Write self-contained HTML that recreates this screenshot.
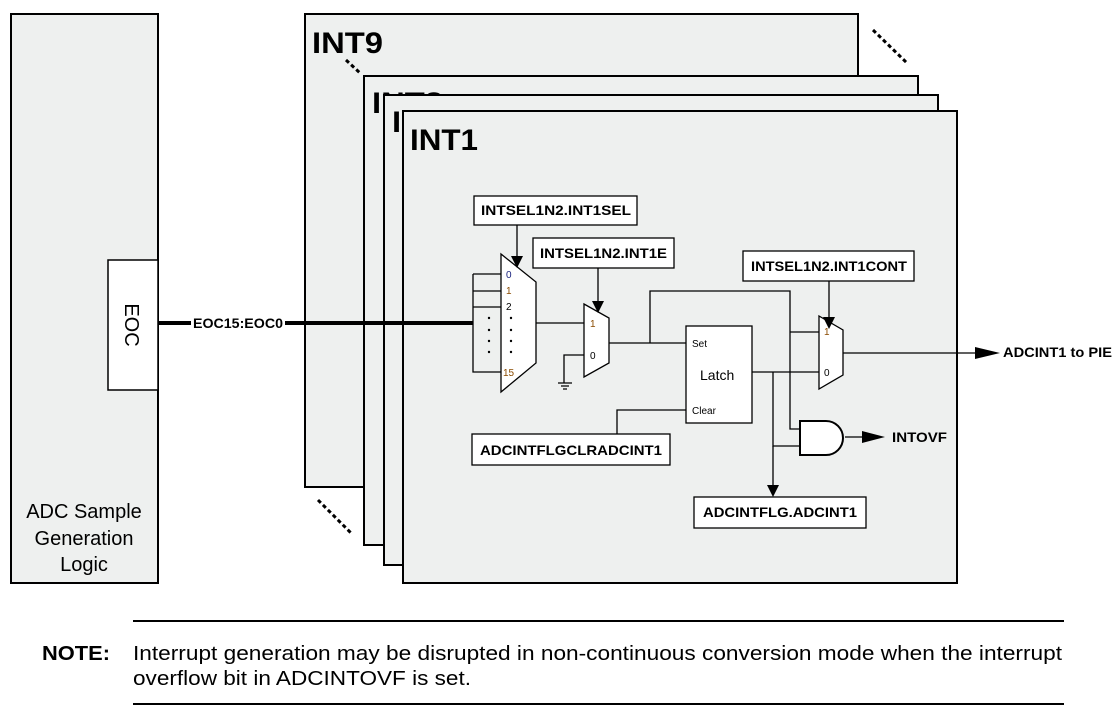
<!DOCTYPE html>
<html><head><style>
html,body{margin:0;padding:0;background:#fff;width:1119px;height:716px;overflow:hidden}
svg text{font-family:"Liberation Sans",sans-serif}
</style></head><body>
<svg width="1119" height="716" viewBox="0 0 1119 716" xmlns="http://www.w3.org/2000/svg">
<g stroke="#000" stroke-width="2" fill="#eef0ef">
<rect x="11" y="14" width="147" height="569"/>
<rect x="305" y="14" width="553" height="473"/>
</g>
<text x="312" y="53" font-size="30" font-weight="bold" textLength="71" lengthAdjust="spacingAndGlyphs">INT9</text>
<rect x="364" y="76" width="554" height="469" fill="#eef0ef" stroke="#000" stroke-width="2"/>
<text x="372" y="113" font-size="30" font-weight="bold" textLength="71" lengthAdjust="spacingAndGlyphs">INT8</text>
<rect x="384" y="95" width="554" height="470" fill="#eef0ef" stroke="#000" stroke-width="2"/>
<text x="392" y="132" font-size="30" font-weight="bold" textLength="71" lengthAdjust="spacingAndGlyphs">INT7</text>
<rect x="403" y="111" width="554" height="472" fill="#eef0ef" stroke="#000" stroke-width="2"/>
<text x="410" y="150" font-size="30" font-weight="bold" textLength="68" lengthAdjust="spacingAndGlyphs">INT1</text>
<rect x="108" y="260" width="50" height="130" fill="#fff" stroke="#000" stroke-width="1.5"/>
<text transform="translate(125,325) rotate(90)" font-size="20" text-anchor="middle">EOC</text>
<text x="84" y="518" font-size="20" text-anchor="middle">ADC Sample</text>
<text x="84" y="545" font-size="20" text-anchor="middle">Generation</text>
<text x="84" y="571" font-size="20" text-anchor="middle">Logic</text>
<g stroke="#000" stroke-width="3" stroke-dasharray="4,3">
<line x1="346" y1="60" x2="360" y2="73"/>
<line x1="873" y1="30" x2="907" y2="63"/>
<line x1="318" y1="500" x2="351" y2="533"/>
</g>
<line x1="158" y1="323" x2="473" y2="323" stroke="#000" stroke-width="4"/>
<rect x="191" y="315" width="94" height="16" fill="#fff"/>
<text x="193" y="328" font-size="14" font-weight="bold" textLength="90" lengthAdjust="spacingAndGlyphs">EOC15:EOC0</text>
<g stroke="#000" stroke-width="1.3" fill="none">
<path d="M473,274 V372 H501 M473,274 H501 M473,291 H501 M473,307 H501"/>
<path d="M536,323 H584 M584,355 H564 V383 M558,383 H572 M561,386 H569 M563,389 H567"/>
<path d="M609,343 H686 M650,343 V291 H790 V429 H800 M790,332 H819 M752,372 H819 M773,372 V446 H800 M843,353 H980"/>
<path d="M617,434 V410 H686 M845,437 H865 M773,446 V485"/>
<path d="M517,225 V256 M598,268 V301 M829,281 V317"/>
</g>
<g stroke="#000" stroke-width="1.3" fill="#fff">
<path d="M501,254 L536,282 L536,363 L501,392 Z"/>
<path d="M584,304 L609,318 L609,363 L584,377 Z"/>
<path d="M819,316 L843,330 L843,375 L819,389 Z"/>
<rect x="686" y="326" width="66" height="97"/>
<path d="M800,421 H826 A17,17 0 0 1 826,455 H800 Z" stroke-width="2"/>
<rect x="474" y="196" width="163" height="29"/>
<rect x="533" y="238" width="141" height="30"/>
<rect x="743" y="251" width="171" height="30"/>
<rect x="472" y="434" width="198" height="31"/>
<rect x="694" y="497" width="172" height="31"/>
</g>
<g fill="#000">
<path d="M511,256 L523,256 L517,268 Z"/><path d="M592,301 L604,301 L598,313 Z"/><path d="M823,317 L835,317 L829,329 Z"/>
<path d="M767,485 L779,485 L773,497 Z"/><path d="M975,347 L1000,353 L975,359 Z"/><path d="M862,431 L885,437 L862,443 Z"/>
<circle cx="489" cy="318" r="1.2"/><circle cx="489" cy="330" r="1.2"/><circle cx="489" cy="341" r="1.2"/><circle cx="489" cy="352" r="1.2"/>
<circle cx="511" cy="318" r="1.2"/><circle cx="511" cy="330" r="1.2"/><circle cx="511" cy="341" r="1.2"/><circle cx="511" cy="352" r="1.2"/>
</g>
<g font-size="10">
<text x="506" y="278" fill="#1a237e">0</text><text x="506" y="294" fill="#8a4b00">1</text><text x="506" y="310">2</text><text x="503" y="376" fill="#8a4b00">15</text>
<text x="590" y="327" fill="#8a4b00">1</text><text x="590" y="359">0</text>
<text x="824" y="335" fill="#8a4b00">1</text><text x="824" y="376">0</text>
<text x="692" y="347">Set</text><text x="692" y="414">Clear</text>
</g>
<text x="700" y="380" font-size="14">Latch</text>
<g font-size="14" font-weight="bold">
<text x="481" y="215" textLength="150" lengthAdjust="spacingAndGlyphs">INTSEL1N2.INT1SEL</text>
<text x="540" y="258" textLength="127" lengthAdjust="spacingAndGlyphs">INTSEL1N2.INT1E</text>
<text x="751" y="271" textLength="156" lengthAdjust="spacingAndGlyphs">INTSEL1N2.INT1CONT</text>
<text x="480" y="455" textLength="182" lengthAdjust="spacingAndGlyphs">ADCINTFLGCLRADCINT1</text>
<text x="703" y="517" textLength="154" lengthAdjust="spacingAndGlyphs">ADCINTFLG.ADCINT1</text>
<text x="1003" y="357" textLength="109" lengthAdjust="spacingAndGlyphs">ADCINT1 to PIE</text>
<text x="892" y="442" textLength="55" lengthAdjust="spacingAndGlyphs">INTOVF</text>
</g>
<line x1="133" y1="621" x2="1064" y2="621" stroke="#000" stroke-width="2"/>
<line x1="133" y1="704" x2="1064" y2="704" stroke="#000" stroke-width="2"/>
<text x="42" y="660" font-size="20" font-weight="bold" textLength="68" lengthAdjust="spacingAndGlyphs">NOTE:</text>
<text x="133" y="660" font-size="20" textLength="929" lengthAdjust="spacingAndGlyphs">Interrupt generation may be disrupted in non-continuous conversion mode when the interrupt</text>
<text x="133" y="685" font-size="20" textLength="338" lengthAdjust="spacingAndGlyphs">overflow bit in ADCINTOVF is set.</text>
</svg>
</body></html>
